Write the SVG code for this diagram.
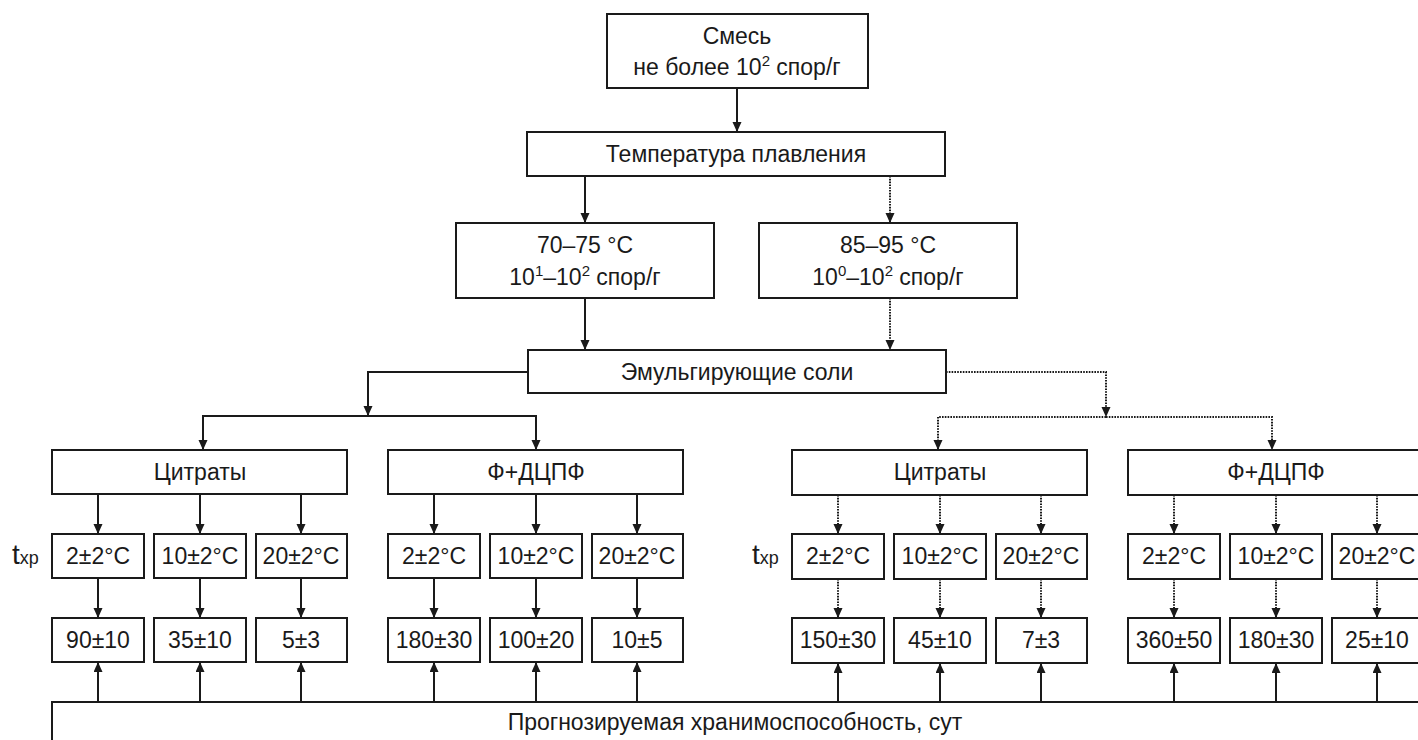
<svg xmlns="http://www.w3.org/2000/svg" width="1418" height="740" viewBox="0 0 1418 740">
<style>
.box{fill:#fff;stroke:#1a1a1a;stroke-width:2}
.t{font-family:"Liberation Sans",Arial,sans-serif;font-size:23px;fill:#1a1a1a;text-anchor:middle}
.sup{font-size:15px}
.c{fill:none;stroke:#1a1a1a;stroke-width:2}
.d{fill:none;stroke:#1a1a1a;stroke-width:2;stroke-dasharray:1.6 1.2}
</style>
<defs>
<marker id="ah" markerUnits="userSpaceOnUse" markerWidth="10" markerHeight="10" refX="10" refY="4.5" orient="auto">
<path d="M0,0 L10,4.5 L0,9 z" fill="#1a1a1a"/>
</marker>
</defs>
<rect width="1418" height="740" fill="#fff"/>

<g id="connectors">
<path class="c" d="M737,88 V132" marker-end="url(#ah)"/>
<path class="c" d="M585,176 V223" marker-end="url(#ah)"/>
<path class="d" d="M890,176 V223" marker-end="url(#ah)"/>
<path class="c" d="M585,298 V350" marker-end="url(#ah)"/>
<path class="d" d="M890,298 V350" marker-end="url(#ah)"/>
<path class="c" d="M528,372 H368 V416" marker-end="url(#ah)"/>
<path class="c" d="M368,416 H203 V450" marker-end="url(#ah)"/>
<path class="c" d="M368,416 H536 V450" marker-end="url(#ah)"/>
<path class="d" d="M946,372 H1106 V417" marker-end="url(#ah)"/>
<path class="d" d="M1106,417 H938 V450" marker-end="url(#ah)"/>
<path class="d" d="M1106,417 H1272 V450" marker-end="url(#ah)"/>
<!-- left citrates -->
<path class="c" d="M98,494 V534" marker-end="url(#ah)"/>
<path class="c" d="M200,494 V534" marker-end="url(#ah)"/>
<path class="c" d="M301,494 V534" marker-end="url(#ah)"/>
<path class="c" d="M98,578 V618" marker-end="url(#ah)"/>
<path class="c" d="M200,578 V618" marker-end="url(#ah)"/>
<path class="c" d="M301,578 V618" marker-end="url(#ah)"/>
<!-- left F+DCPF -->
<path class="c" d="M434,494 V534" marker-end="url(#ah)"/>
<path class="c" d="M536,494 V534" marker-end="url(#ah)"/>
<path class="c" d="M637,494 V534" marker-end="url(#ah)"/>
<path class="c" d="M434,578 V618" marker-end="url(#ah)"/>
<path class="c" d="M536,578 V618" marker-end="url(#ah)"/>
<path class="c" d="M637,578 V618" marker-end="url(#ah)"/>
<!-- right citrates -->
<path class="d" d="M838,495 V534" marker-end="url(#ah)"/>
<path class="d" d="M940,495 V534" marker-end="url(#ah)"/>
<path class="d" d="M1041,495 V534" marker-end="url(#ah)"/>
<path class="d" d="M838,579 V618" marker-end="url(#ah)"/>
<path class="d" d="M940,579 V618" marker-end="url(#ah)"/>
<path class="d" d="M1041,579 V618" marker-end="url(#ah)"/>
<!-- right F+DCPF -->
<path class="d" d="M1174,495 V534" marker-end="url(#ah)"/>
<path class="d" d="M1276,495 V534" marker-end="url(#ah)"/>
<path class="d" d="M1377,495 V534" marker-end="url(#ah)"/>
<path class="d" d="M1174,579 V618" marker-end="url(#ah)"/>
<path class="d" d="M1276,579 V618" marker-end="url(#ah)"/>
<path class="d" d="M1377,579 V618" marker-end="url(#ah)"/>
<!-- up arrows from forecast -->
<path class="c" d="M98,702 V662" marker-end="url(#ah)"/>
<path class="c" d="M200,702 V662" marker-end="url(#ah)"/>
<path class="c" d="M301,702 V662" marker-end="url(#ah)"/>
<path class="c" d="M434,702 V662" marker-end="url(#ah)"/>
<path class="c" d="M536,702 V662" marker-end="url(#ah)"/>
<path class="c" d="M637,702 V662" marker-end="url(#ah)"/>
<path class="c" d="M838,702 V663" marker-end="url(#ah)"/>
<path class="c" d="M940,702 V663" marker-end="url(#ah)"/>
<path class="c" d="M1041,702 V663" marker-end="url(#ah)"/>
<path class="c" d="M1174,702 V663" marker-end="url(#ah)"/>
<path class="c" d="M1276,702 V663" marker-end="url(#ah)"/>
<path class="c" d="M1377,702 V663" marker-end="url(#ah)"/>
</g>

<g id="mix">
<rect class="box" x="607" y="14" width="261" height="74"/>
<text class="t" x="737" y="44">Смесь</text>
<text class="t" x="737" y="75">не более 10<tspan class="sup" dy="-9">2</tspan><tspan dy="9"> спор/г</tspan></text>
</g>
<g id="melt">
<rect class="box" x="527" y="132" width="418" height="44"/>
<text class="t" x="736" y="162">Температура плавления</text>
</g>
<g id="t7075">
<rect class="box" x="456" y="223" width="258" height="75"/>
<text class="t" x="585" y="253">70–75 °C</text>
<text class="t" x="585" y="285">10<tspan class="sup" dy="-9">1</tspan><tspan dy="9">–10</tspan><tspan class="sup" dy="-9">2</tspan><tspan dy="9"> спор/г</tspan></text>
</g>
<g id="t8595">
<rect class="box" x="759" y="223" width="258" height="75"/>
<text class="t" x="888" y="253">85–95 °C</text>
<text class="t" x="888" y="285">10<tspan class="sup" dy="-9">0</tspan><tspan dy="9">–10</tspan><tspan class="sup" dy="-9">2</tspan><tspan dy="9"> спор/г</tspan></text>
</g>
<g id="salts">
<rect class="box" x="528" y="350" width="418" height="43"/>
<text class="t" x="737" y="380">Эмульгирующие соли</text>
</g>

<g id="citL">
<rect class="box" x="52" y="450" width="295" height="44"/>
<text class="t" x="200" y="480">Цитраты</text>
</g>
<g id="fdL">
<rect class="box" x="388" y="450" width="295" height="44"/>
<text class="t" x="536" y="480">Ф+ДЦПФ</text>
</g>
<g id="citR">
<rect class="box" x="792" y="450" width="295" height="45"/>
<text class="t" x="940" y="480">Цитраты</text>
</g>
<g id="fdR">
<rect class="box" x="1128" y="450" width="295" height="45"/>
<text class="t" x="1276" y="480">Ф+ДЦПФ</text>
</g>

<g id="txp">
<text x="12" y="564" style="font-family:'Liberation Sans',Arial,sans-serif;fill:#1a1a1a"><tspan font-size="28">t</tspan><tspan font-size="18">хр</tspan></text>
<text x="752" y="564" style="font-family:'Liberation Sans',Arial,sans-serif;fill:#1a1a1a"><tspan font-size="28">t</tspan><tspan font-size="18">хр</tspan></text>
</g>

<g id="tempL1"><rect class="box" x="52" y="534" width="92" height="44"/><text class="t" x="98" y="564">2±2°C</text></g>
<g id="tempL2"><rect class="box" x="154" y="534" width="92" height="44"/><text class="t" x="200" y="564">10±2°C</text></g>
<g id="tempL3"><rect class="box" x="256" y="534" width="91" height="44"/><text class="t" x="301" y="564">20±2°C</text></g>
<g id="tempL4"><rect class="box" x="388" y="534" width="92" height="44"/><text class="t" x="434" y="564">2±2°C</text></g>
<g id="tempL5"><rect class="box" x="490" y="534" width="92" height="44"/><text class="t" x="536" y="564">10±2°C</text></g>
<g id="tempL6"><rect class="box" x="592" y="534" width="91" height="44"/><text class="t" x="637" y="564">20±2°C</text></g>
<g id="tempR1"><rect class="box" x="792" y="534" width="92" height="45"/><text class="t" x="838" y="564">2±2°C</text></g>
<g id="tempR2"><rect class="box" x="894" y="534" width="92" height="45"/><text class="t" x="940" y="564">10±2°C</text></g>
<g id="tempR3"><rect class="box" x="996" y="534" width="91" height="45"/><text class="t" x="1041" y="564">20±2°C</text></g>
<g id="tempR4"><rect class="box" x="1128" y="534" width="92" height="45"/><text class="t" x="1174" y="564">2±2°C</text></g>
<g id="tempR5"><rect class="box" x="1230" y="534" width="92" height="45"/><text class="t" x="1276" y="564">10±2°C</text></g>
<g id="tempR6"><rect class="box" x="1332" y="534" width="91" height="45"/><text class="t" x="1377" y="564">20±2°C</text></g>

<g id="valL1"><rect class="box" x="52" y="618" width="92" height="44"/><text class="t" x="98" y="648">90±10</text></g>
<g id="valL2"><rect class="box" x="154" y="618" width="92" height="44"/><text class="t" x="200" y="648">35±10</text></g>
<g id="valL3"><rect class="box" x="256" y="618" width="91" height="44"/><text class="t" x="301" y="648">5±3</text></g>
<g id="valL4"><rect class="box" x="388" y="618" width="92" height="44"/><text class="t" x="434" y="648">180±30</text></g>
<g id="valL5"><rect class="box" x="490" y="618" width="92" height="44"/><text class="t" x="536" y="648">100±20</text></g>
<g id="valL6"><rect class="box" x="592" y="618" width="91" height="44"/><text class="t" x="637" y="648">10±5</text></g>
<g id="valR1"><rect class="box" x="792" y="618" width="92" height="45"/><text class="t" x="838" y="648">150±30</text></g>
<g id="valR2"><rect class="box" x="894" y="618" width="92" height="45"/><text class="t" x="940" y="648">45±10</text></g>
<g id="valR3"><rect class="box" x="996" y="618" width="91" height="45"/><text class="t" x="1041" y="648">7±3</text></g>
<g id="valR4"><rect class="box" x="1128" y="618" width="92" height="45"/><text class="t" x="1174" y="648">360±50</text></g>
<g id="valR5"><rect class="box" x="1230" y="618" width="92" height="45"/><text class="t" x="1276" y="648">180±30</text></g>
<g id="valR6"><rect class="box" x="1332" y="618" width="91" height="45"/><text class="t" x="1377" y="648">25±10</text></g>

<g id="forecast">
<rect class="box" x="52" y="702" width="1420" height="60"/>
<text class="t" x="735" y="730">Прогнозируемая хранимоспособность, сут</text>
</g>
</svg>
